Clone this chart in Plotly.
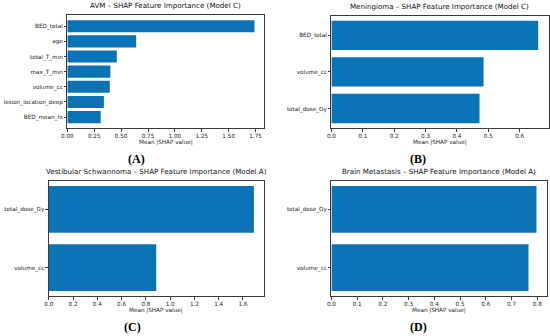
import plotly.graph_objects as go

W, H = 550, 336

# ---- data (top-to-bottom order as shown) ----
avm_features = ["BED_total", "age", "total_T_min", "max_T_min", "volume_cc", "lesion_location_deep", "BED_mean_fx"]
avm_values = [1.74, 0.64, 0.46, 0.40, 0.395, 0.34, 0.31]

men_features = ["BED_total", "volume_cc", "total_dose_Gy"]
men_values = [0.659, 0.485, 0.472]

vs_features = ["total_dose_Gy", "volume_cc"]
vs_values = [1.69, 0.885]

bm_features = ["total_dose_Gy", "volume_cc"]
bm_values = [0.797, 0.766]

titles = [
    "AVM – SHAP Feature Importance (Model C)",
    "Meningioma – SHAP Feature Importance (Model C)",
    "Vestibular Schwannoma – SHAP Feature Importance (Model A)",
    "Brain Metastasis – SHAP Feature Importance (Model A)",
]
panel_labels = ["(A)", "(B)", "(C)", "(D)"]
x_label = "Mean |SHAP value|"

# ---- layout geometry (pixels) ----
panels = [
    dict(feat=avm_features, val=avm_values, x0=62, x1=260.7, y0=15, y1=128.3, dtick=0.25, fmt=".2f", lab_x=132),
    dict(feat=men_features, val=men_values, x0=329, x1=548.5, y0=15.5, y1=128.3, dtick=0.1, fmt=".1f", lab_x=417),
    dict(feat=vs_features, val=vs_values, x0=43.3, x1=261, y0=180.7, y1=296.3, dtick=0.2, fmt=".1f", lab_x=128),
    dict(feat=bm_features, val=bm_values, x0=329, x1=546.7, y0=180.7, y1=296.3, dtick=0.1, fmt=".1f", lab_x=417),
]

BAR = "#0a73b6"
FONT = "DejaVu Sans"

fig = go.Figure()
annotations = []

def px(x):
    return x / W

def py(y):
    return 1 - y / H

for i, p in enumerate(panels):
    n = i + 1
    xa = "x" if n == 1 else f"x{n}"
    ya = "y" if n == 1 else f"y{n}"
    feats = list(reversed(p["feat"]))
    vals = list(reversed(p["val"]))
    fig.add_trace(go.Bar(
        x=vals, y=feats, orientation="h", marker=dict(color=BAR, line=dict(width=0)),
        xaxis=xa, yaxis=ya, showlegend=False, hoverinfo="skip",
    ))
    k = len(feats)
    span = (k - 1) + 0.8
    yr = [-0.4 - 0.05 * span, k - 1 + 0.4 + 0.05 * span]
    xr = [0, max(vals) * 1.05]
    axis_common = dict(
        showline=True, linecolor="#3a3a3a", linewidth=0.7, mirror=True,
        ticks="outside", ticklen=2.5, tickwidth=0.6, tickcolor="#3a3a3a",
        showgrid=False, zeroline=False,
        tickfont=dict(family=FONT, size=5.7, color="#222"),
    )
    fig.layout[("xaxis" if n == 1 else f"xaxis{n}")] = dict(
        domain=[px(p["x0"]), px(p["x1"])], anchor=ya, range=xr,
        dtick=p["dtick"], tick0=0, tickformat=p["fmt"], **axis_common,
    )
    fig.layout[("yaxis" if n == 1 else f"yaxis{n}")] = dict(
        domain=[py(p["y1"]), py(p["y0"])], anchor=xa, range=yr,
        type="category", categoryorder="array", categoryarray=feats, **axis_common,
    )
    cx = (p["x0"] + p["x1"]) / 2
    annotations.append(dict(
        text=titles[i], x=px(cx), y=py(p["y0"] - 9.3), xref="paper", yref="paper",
        xanchor="center", yanchor="middle", showarrow=False,
        font=dict(family=FONT, size=7.1, color="#111"),
    ))
    annotations.append(dict(
        text=x_label, x=px(cx), y=py(p["y1"] + 14.5), xref="paper", yref="paper",
        xanchor="center", yanchor="middle", showarrow=False,
        font=dict(family=FONT, size=5.7, color="#222"),
    ))
    annotations.append(dict(
        text="<b>" + panel_labels[i] + "</b>", x=px(p["lab_x"]), y=py(p["y1"] + 31),
        xref="paper", yref="paper", xanchor="center", yanchor="middle", showarrow=False,
        font=dict(family="Liberation Serif", size=12, color="#000"),
    ))

fig.update_layout(
    width=W, height=H, margin=dict(l=0, r=0, t=0, b=0),
    paper_bgcolor="white", plot_bgcolor="white", bargap=0.2,
    annotations=annotations, hovermode=False,
)

fig.write_html(
    "out.html",
    config={"displayModeBar": False},
    post_script="document.body.style.margin='0';document.body.style.overflow='hidden';",
)
